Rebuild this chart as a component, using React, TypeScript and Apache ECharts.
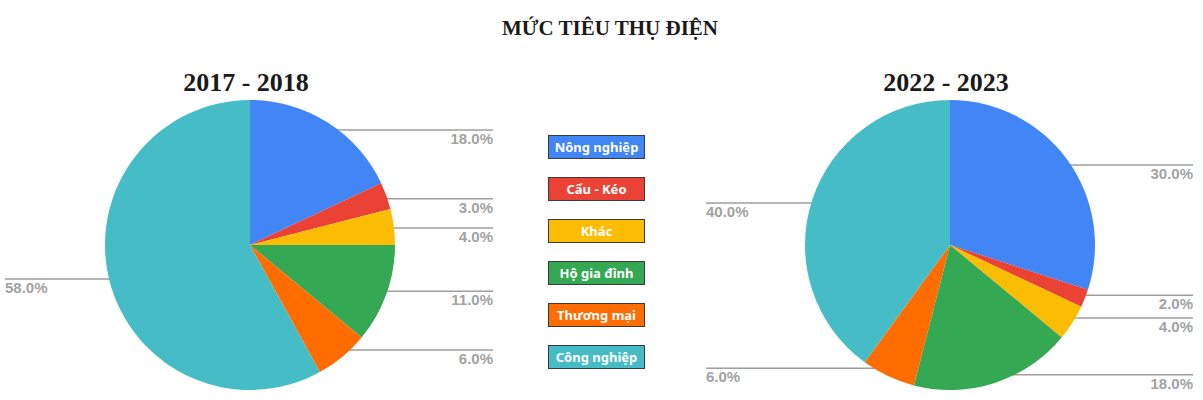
import React, { useEffect, useRef } from "react";
import * as echarts from "echarts";

const categories = ["Nông nghiệp", "Cẩu - Kéo", "Khác", "Hộ gia đình", "Thương mại", "Công nghiệp"];
const sliceColors = ["#4285f4", "#ea4335", "#fbbc04", "#34a853", "#ff6d01", "#46bdc6"];
const share2017 = [18, 3, 4, 11, 6, 58];
const share2022 = [30, 2, 4, 18, 6, 40];
const periods = ["2017 - 2018", "2022 - 2023"];

const pies = [
  { name: periods[0], values: share2017, center: [250, 245], edges: [5, 493] },
  { name: periods[1], values: share2022, center: [950, 245], edges: [706, 1193] },
];

export default function App() {
  const chartRef = useRef<HTMLDivElement | null>(null);

  useEffect(() => {
    document.body.style.margin = "0";
    if (!chartRef.current) return;
    const chart = echarts.init(chartRef.current, null, { renderer: "svg" });

    const series = pies.map((pie) => ({
      name: pie.name,
      type: "pie",
      center: pie.center,
      radius: 145,
      startAngle: 90,
      data: categories.map((name, i) => ({
        name,
        value: pie.values[i],
        itemStyle: { color: sliceColors[i] },
      })),
      label: {
        show: true,
        position: "outside",
        formatter: (p: any) => `${Number(p.value).toFixed(1)}%`,
        color: "#a2a2a2",
        fontFamily: "Liberation Sans",
        fontWeight: "bold",
        fontSize: 15,
      },
      labelLine: {
        show: true,
        length: 10,
        length2: 10,
        lineStyle: { color: "#9e9e9e", width: 1.5 },
      },
      // line starts just inside the slice and runs flat to the edge, value sits under it
      labelLayout: (params: any) => {
        const pts = params.labelLinePoints;
        if (!pts) return {};
        const [cx, cy] = pie.center;
        const dx = pts[0][0] - cx;
        const dy = pts[0][1] - cy;
        const dotX = cx + dx * 0.94;
        const dotY = cy + dy * 0.94;
        const onLeft = dotX < cx;
        const endX = onLeft ? pie.edges[0] : pie.edges[1];
        return {
          x: endX,
          y: dotY + 1,
          align: onLeft ? "left" : "right",
          verticalAlign: "top",
          labelLinePoints: [
            [dotX, dotY],
            [dotX, dotY],
            [endX, dotY],
          ],
        };
      },
      emphasis: { disabled: true },
    }));

    chart.setOption({
      animation: false,
      title: [
        {
          text: "MỨC TIÊU THỤ ĐIỆN",
          left: 605,
          textAlign: "center",
          top: 12,
          textStyle: { fontFamily: "Liberation Serif", fontWeight: "bold", fontSize: 21, color: "#1a1a1a" },
        },
        ...pies.map((pie) => ({
          text: pie.name,
          left: pie.center[0] - 9,
          textAlign: "center",
          top: 64,
          textStyle: { fontFamily: "Liberation Serif", fontWeight: "bold", fontSize: 26, color: "#1a1a1a" },
        })),
      ],
      legend: {
        orient: "vertical",
        left: 544,
        top: 135,
        padding: 0,
        icon: "none",
        itemWidth: 0,
        itemGap: 18,
        selectedMode: false,
        formatter: (name: string) => `{box|${name}}`,
        data: categories.map((name, i) => ({
          name,
          textStyle: {
            rich: {
              box: {
                color: "#ffffff",
                fontFamily: "Noto Sans",
                fontWeight: "bold",
                fontSize: 13,
                width: 87,
                height: 14,
                lineHeight: 14,
                align: "center",
                padding: [4, 4],
                backgroundColor: sliceColors[i],
                borderColor: "#3a3a3a",
                borderWidth: 1,
              },
            },
          },
        })),
      },
      series,
    });

    return () => chart.dispose();
  }, []);

  return <div ref={chartRef} style={{ width: 1203, height: 400 }} />;
}
